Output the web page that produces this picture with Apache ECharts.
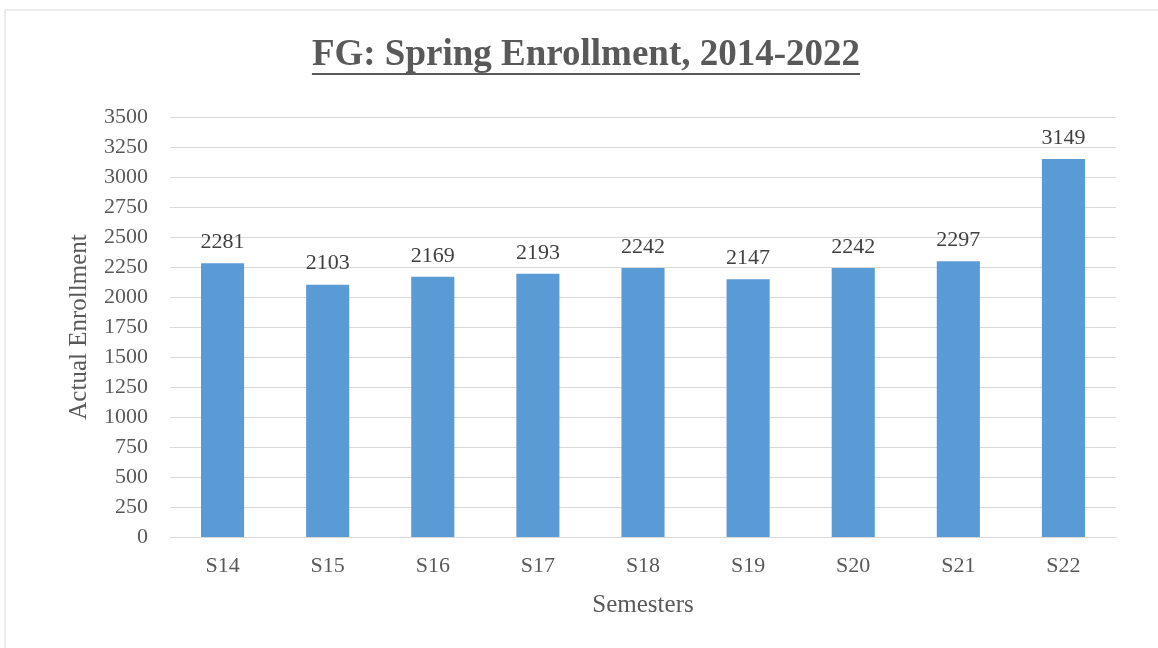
<!DOCTYPE html>
<html><head><meta charset="utf-8">
<script src="https://cdn.jsdelivr.net/npm/echarts@6/dist/echarts.min.js"></script>
<style>html,body{margin:0;padding:0;background:#fff}#c{width:1158px;height:648px}</style>
</head><body><div id="c"></div>
<script>
const categories = ['S14','S15','S16','S17','S18','S19','S20','S21','S22'];
const enrollment = [2281, 2103, 2169, 2193, 2242, 2147, 2242, 2297, 3149];
const titleText = 'FG: Spring Enrollment, 2014-2022';
const FONT = '"Liberation Serif", "Times New Roman", serif';
const TITLE_FONT = 'bold 37px ' + FONT;
const cv = document.createElement('canvas').getContext('2d');
cv.font = TITLE_FONT;
const titleW = cv.measureText(titleText).width;
const titleCx = 586;
const chart = echarts.init(document.getElementById('c'));
chart.setOption({
  backgroundColor: '#fff',
  animation: false,
  graphic: [
    { type: 'rect', shape: { x: 5, y: 10, width: 1200, height: 700 }, style: { fill: 'none', stroke: '#d9d9d9', lineWidth: 1 }, silent: true },
    { type: 'text', x: titleCx, y: 55, style: { text: titleText, font: TITLE_FONT, fill: '#595959', align: 'center', verticalAlign: 'middle' }, silent: true },
    { type: 'rect', shape: { x: titleCx - titleW / 2, y: 73, width: titleW, height: 2 }, style: { fill: '#595959' }, silent: true }
  ],
  grid: { left: 170, right: 42, top: 117, bottom: 111, containLabel: false },
  xAxis: {
    type: 'category', data: categories,
    name: 'Semesters', nameLocation: 'middle', nameGap: 56,
    nameTextStyle: { fontFamily: FONT, fontSize: 25, color: '#595959' },
    axisLine: { lineStyle: { color: '#d9d9d9' } },
    axisTick: { show: false },
    axisLabel: { fontFamily: FONT, fontSize: 22, color: '#595959', margin: 18 }
  },
  yAxis: {
    type: 'value', min: 0, max: 3500, interval: 250,
    name: 'Actual Enrollment', nameLocation: 'middle', nameGap: 78, nameRotate: 90,
    nameTextStyle: { fontFamily: FONT, fontSize: 25, color: '#595959' },
    axisLine: { show: false }, axisTick: { show: false },
    splitLine: { lineStyle: { color: '#d9d9d9' } },
    axisLabel: { fontFamily: FONT, fontSize: 22, color: '#595959', margin: 22, formatter: v => String(v) }
  },
  series: [{
    type: 'bar', data: enrollment, barWidth: '41%',
    itemStyle: { color: '#5b9bd5' },
    label: { show: true, position: 'top', distance: 10, fontFamily: FONT, fontSize: 22, color: '#404040' }
  }]
});
</script></body></html>
